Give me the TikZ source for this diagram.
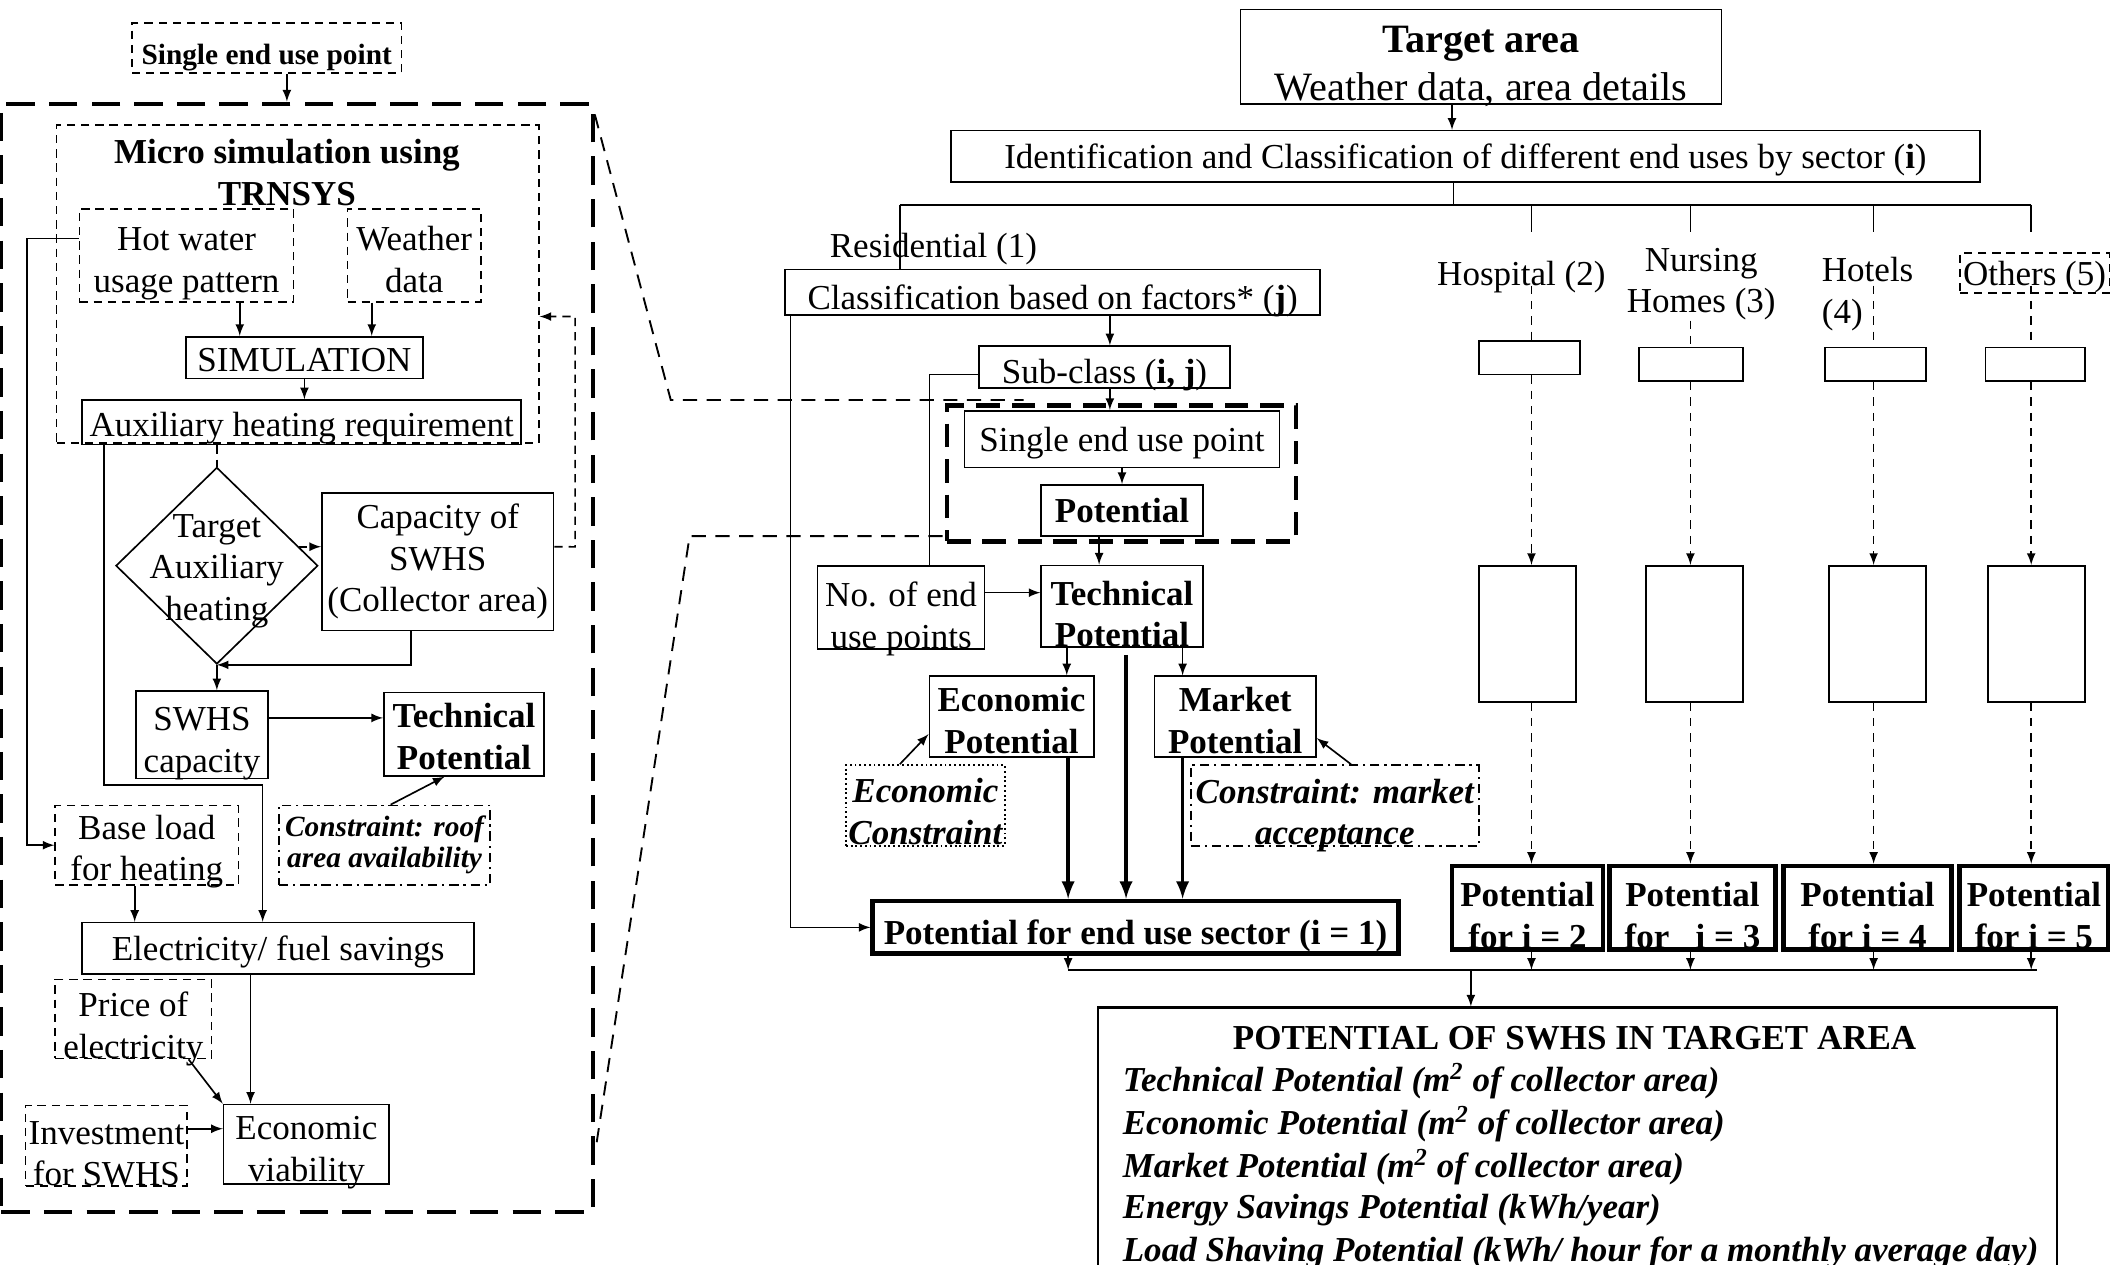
\documentclass[tikz,border=0pt]{standalone}
\usepackage{fontspec}
\setmainfont{Liberation Serif}
\usetikzlibrary{shapes.geometric}

\tikzset{
	box/.style={draw,inner sep=0pt,align=center,text depth=0pt},
	dbox/.style={box,dash pattern=on 3.5pt off 2.5pt},
	ddbox/.style={box,dash pattern=on 4pt off 2pt on 1pt off 2pt},
	potbox/.style={box,line width=2pt,font=\bfseries},
	wh/.style 2 args={minimum width=#1*0.02cm,minimum height=#2*0.02cm},
	zoomline/.style={dash pattern=on 6pt off 4pt,line width=0.8pt},
	colline/.style={dash pattern=on 3.5pt off 3pt}
}

\begin{document}
\begin{tikzpicture}[x=0.02cm,y=-0.02cm,line width=0.7pt,>=latex]
		\fontsize{14.8}{17.6}\selectfont
		\useasboundingbox (0,0) rectangle (1568,939);
		
		% micro simulation part
		\node[box,wh={439}{823},line width=1.8pt,dash pattern=on 12pt off 6pt] (simframe) at (220.5,488.5) {};
		\node[dbox,wh={200}{37},text height=14.2pt,font=\fontsize{12.4}{14}\selectfont\bfseries] (sep) at (198,35.5) {Single end use point};
		\node[dbox,wh={358}{236}] (micro) at (221,211) {};
		\node[font=\bfseries,align=center] (microt) at (213,128) {Micro simulation using\\TRNSYS};
		\node[dbox,wh={159}{69},text height=31.1pt] (hot) at (138.5,189.5) {Hot water\\usage pattern};
		\node[dbox,wh={99}{69},text height=31.1pt] (wea) at (307.5,189.5) {Weather\\data};
		\node[box,wh={176}{31},text height=12.1pt] (simu) at (226,265.5) {SIMULATION};
		\node[box,wh={326}{33},text height=12.4pt] (aux) at (224,313.5) {Auxiliary heating requirement};
		\node[draw,diamond,inner sep=0pt,wh={150}{146}] (tgt) at (161,420) {};
		\node[align=center] (tgtt) at (161,424) {Target\\Auxiliary\\heating};
		\node[box,wh={172}{102},text depth={}] (cap) at (325,417) {Capacity of\\SWHS\\(Collector area)};
		\node[box,wh={98}{65},text height=32pt] (swhs) at (150,545.5) {SWHS\\capacity};
		\node[box,wh={119}{62},text height=30pt,font=\bfseries] (tpl) at (344.5,545) {Technical\\Potential};
		\node[ddbox,wh={157}{59},text depth={},font=\fontsize{12.4}{13.2}\selectfont\bfseries\itshape] (roof) at (285.5,627.5) {Constraint: roof\\area availability};
		\node[dbox,wh={136}{59},text height=30pt] (base) at (109,627.5) {Base load\\for heating};
		\node[box,wh={291}{38}] (elec) at (206.5,704) {Electricity/ fuel savings};
		\node[dbox,wh={116}{57},text height=33.4pt] (price) at (99,756.5) {Price of\\electricity};
		\node[dbox,wh={120}{57},text height=33.9pt] (inv) at (79,850.5) {Investment\\for SWHS};
		\node[box,wh={123}{59},text height=31.1pt] (ecov) at (227.5,849.5) {Economic\\viability};
		
		\draw[->] (sep.south -| 213,0) -- (simframe.north -| 213,0);
		\draw[->] (hot.south -| 178,0) -- (simu.north -| 178,0);
		\draw[->] (wea.south -| 276,0) -- (simu.north -| 276,0);
		\draw[->] (simu.south) -- (simu.south |- aux.north);
		\draw[->] (hot.west |- 0,177) -- (20,177) |- (base.west);
		\draw[->] (aux.south -| 77,0) |- (195,583) -- (elec.north -| 195,0);
		\draw[dash pattern=on 3.5pt off 2.5pt] (aux.south -| tgt.north) -- (tgt.north);
		\draw[dash pattern=on 3.5pt off 2.5pt,->] (tgt.13) -- (tgt.13 -| cap.west);
		\draw[dash pattern=on 3.5pt off 2.5pt,->] (cap.east |- tgt.13) -- (427,406) |- (micro.east |- 0,235);
		\draw[->] (cap.south -| 305,0) |- (tgt.south);
		\draw[->] (tgt.south) -- (tgt.south |- swhs.north);
		\draw[->] (swhs.east |- 0,533) -- (tpl.west |- 0,533);
		\draw[->] (roof.north -| 290,0) -- (tpl.south -| 330,0);
		\draw[->] (base.south -| 100,0) -- (elec.north -| 100,0);
		\draw[->] (elec.south -| 186,0) -- (ecov.north -| 186,0);
		\draw[->] (price.south -| 140,0) -- (ecov.north west);
		\draw[->] (inv.east |- 0,838) -- (ecov.west |- 0,838);
		
		% target area part
		\node[box,wh={357}{70},text height=37pt,font=\fontsize{17}{20.4}\selectfont] (tarea) at (1099.5,42) {\textbf{Target area}\\Weather data, area details};
		\node[box,wh={764}{38}] (ident) at (1088,116) {Identification and Classification of different end uses by sector (\textbf{i})};
		\node (resi) at (693,185) {Residential (1)};
		\node[box,wh={397}{34},text height=14.8pt] (cls) at (781.5,217) {Classification based on factors* (\textbf{j})};
		\node[box,wh={186}{31},text height=13.7pt] (subc) at (820,272.5) {Sub-class (\textbf{i, j})};
		\node[box,wh={259}{101},line width=1.8pt,dash pattern=on 10pt off 5pt] (pbox) at (832.5,351.5) {};
		\node[box,wh={234}{42}] (sepr) at (833,326) {Single end use point};
		\node[box,wh={120}{38},font=\bfseries] (pot) at (833,379) {Potential};
		\node[box,wh={120}{60},text height=34.4pt,font=\bfseries] (tpr) at (833,450) {Technical\\Potential};
		\node[box,wh={124}{62},text height=34.5pt] (noep) at (669,451) {No. of end\\use points};
		\node[box,wh={122}{60},text height=31pt,font=\bfseries] (econp) at (751,532) {Economic\\Potential};
		\node[box,wh={120}{60},text height=31pt,font=\bfseries] (mktp) at (917,532) {Market\\Potential};
		\node[box,wh={118}{60},text height=32.7pt,dash pattern=on 0.8pt off 1.2pt,font=\bfseries\itshape] (econc) at (687,598) {Economic\\Constraint};
		\node[ddbox,wh={214}{60},text height=33.3pt,font=\bfseries\itshape] (mktc) at (991,598) {Constraint: market\\acceptance};
		\node[potbox,wh={390}{39},text height=14.8pt] (sect) at (843,688.5) {Potential for end use sector (i = 1)};
		\node[box,wh={712}{202},line width=0.9pt] (final) at (1171,849) {};
		\node[font=\bfseries] (fhead) at (1169,771) {POTENTIAL OF SWHS IN TARGET AREA};
		\foreach \t [count=\n] in {{Technical Potential (m\textsuperscript{2} of collector area)},
			{Economic Potential (m\textsuperscript{2} of collector area)},
			{Market Potential (m\textsuperscript{2} of collector area)},
			{Energy Savings Potential (kWh/year)},
			{Load Shaving Potential (kWh/ hour for a monthly average day)}}
		\node[anchor=west,inner sep=0pt,font=\bfseries\itshape] (fl\n) at (833,771+31.8*\n) {\t};
		
		% other sectors
		\node (hosp) at (1129.5,206) {Hospital (2)};
		\node[align=center] (nurs) at (1263,211) {Nursing\\Homes (3)};
		\node[align=left,anchor=west,inner sep=0pt] (hotl) at (1352,218.5) {Hotels\\(4)};
		\node[dbox,wh={111}{25},text depth={},text height=13.7pt] (othr) at (1510.5,202.5) {Others (5)};
		\node[box,wh={75}{25}] (sm2) at (1135.5,265.5) {};
		\node[box,wh={77}{25}] (sm3) at (1255.5,270.5) {};
		\node[box,wh={75}{25}] (sm4) at (1392.5,270.5) {};
		\node[box,wh={74}{25}] (sm5) at (1511,270.5) {};
		\node[box,wh={72}{101}] (em2) at (1134,470.5) {};
		\node[box,wh={72}{101}] (em3) at (1258,470.5) {};
		\node[box,wh={72}{101}] (em4) at (1394,470.5) {};
		\node[box,wh={72}{101}] (em5) at (1512,470.5) {};
		\node[potbox,wh={112}{62},text height=34.4pt] (pt2) at (1134,674) {Potential\\for i = 2};
		\node[potbox,wh={123}{62},text height=34.4pt] (pt3) at (1256.5,674) {Potential\\for~~~i = 3};
		\node[potbox,wh={125}{62},text height=34.4pt] (pt4) at (1386.5,674) {Potential\\for i = 4};
		\node[potbox,wh={110}{62},text height=34.4pt] (pt5) at (1510,674) {Potential\\for i = 5};
		
		\draw[->] (tarea.south -| 1078,0) -- (ident.north -| 1078,0);
		\draw (ident.south -| 1079,0) -- (1079,152);
		\draw (668,152) -- (1508,152);
		\draw (668,152) -- (cls.north -| 668,0);
		\draw[->] (cls.south -| 824,0) -- (subc.north -| 824,0);
		\draw (subc.west |- 0,278) -| (noep.north -| 690,0);
		\draw[->] (subc.south -| 824,0) -- (sepr.north -| 824,0);
		\draw[->] (sepr.south) -- (pot.north);
		\draw[->] (pot.south -| 816,0) -- (tpr.north -| 816,0);
		\draw[->] (noep.east |- 0,440) -- (tpr.west |- 0,440);
		\draw[->] (tpr.south -| 792,0) -- (econp.north -| 792,0);
		\draw[->] (tpr.south -| 878,0) -- (mktp.north -| 878,0);
		\draw[->,line width=1.5pt] (econp.south -| 793,0) -- (sect.north -| 793,0);
		\draw[->,line width=1.5pt,shorten <=3pt] (tpr.south -| 836,0) -- (sect.north -| 836,0);
		\draw[->,line width=1.5pt] (mktp.south -| 878,0) -- (sect.north -| 878,0);
		\draw[->] (cls.south -| 587,0) |- (sect.west);
		\draw[->] (econc.north -| 668,0) -- (econp.west |- 0,545);
		\draw[->] (mktc.north -| 1003,0) -- (mktp.east |- 0,548);
		\draw[->] (sect.south -| 793,0) -- (793,720);
		\draw (793,720) -- (1512,720);
		\draw[->] (1092,720) -- (final.north -| 1092,0);
		\foreach \k/\x/\y in {2/1137/212,3/1255/238,4/1391/212,5/1508/212}{
			\draw (\x,152) -- (\x,172);
			\draw[colline] (\x,\y) -- (sm\k.north -| \x,0);
			\draw[colline,->] (sm\k.south -| \x,0) -- (em\k.north -| \x,0);
			\draw[colline,->] (em\k.south -| \x,0) -- (pt\k.north -| \x,0);
			\draw[->] (pt\k.south -| \x,0) -- (\x,720);
		}
		
		% zoom lines between the two parts
		\coordinate (zu) at (498,297);
		\coordinate (zuend) at (760,297);
		\coordinate (zl) at (512,398);
		\draw[zoomline] (simframe.north east |- 0,85) -- (zu) -- (zuend);
		\draw[zoomline] (443,848) -- (zl) -- (pbox.west |- zl);
	\end{tikzpicture}
\end{document}
